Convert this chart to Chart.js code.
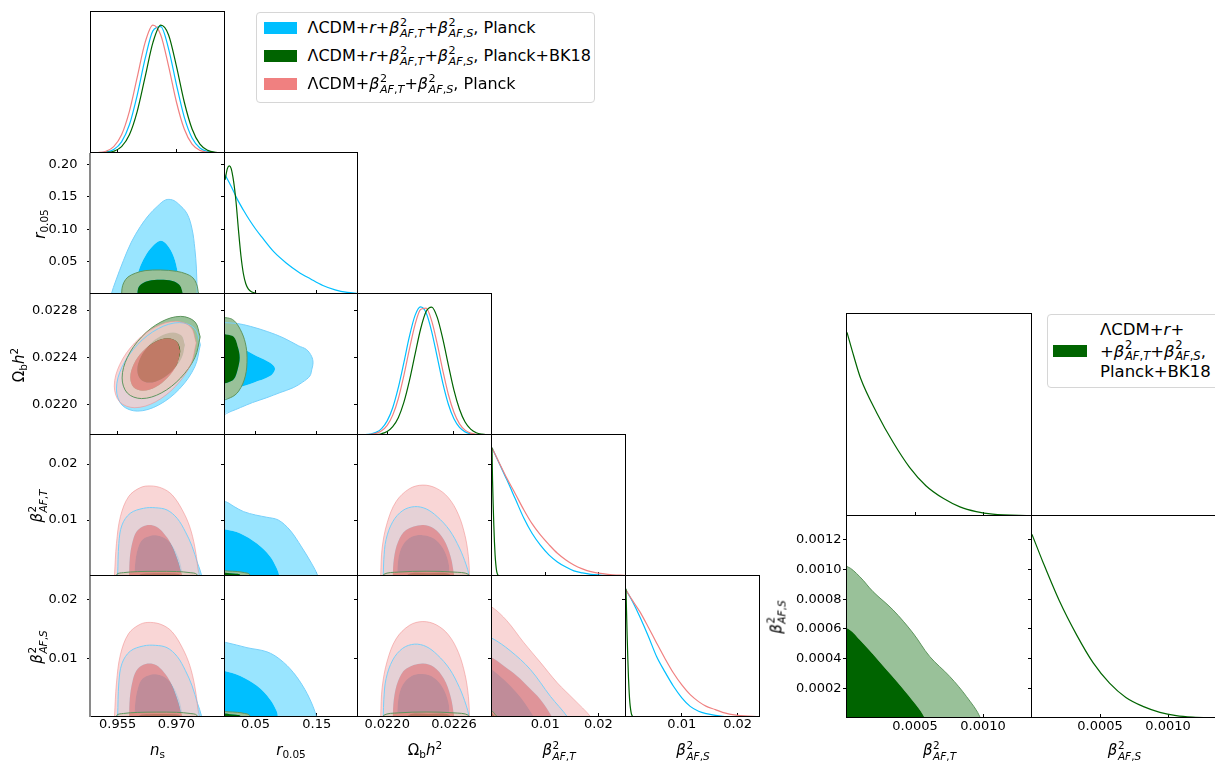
<!DOCTYPE html>
<html>
<head>
<meta charset="utf-8">
<title>Triangle plot</title>
<script src="https://cdn.jsdelivr.net/npm/chart.js@4.4.1/dist/chart.umd.min.js"></script>
<style>
  html, body { margin: 0; padding: 0; background: #fff; }
  body { position: relative; width: 1215px; height: 761px; overflow: hidden;
         font-family: "DejaVu Sans", sans-serif; color: #000; }
  canvas { position: absolute; }
  .t { position: absolute; white-space: nowrap; line-height: 1; }
  .c { transform: translate(-50%, -50%); font-size: 15px; }
  .v { transform: translate(-50%, -50%) rotate(-90deg); font-size: 15px; }
  .leg { transform: translateY(-50%); }
  .ss { display: inline-flex; flex-direction: column; font-size: 0.7em; line-height: 1;
        vertical-align: 0.62em; margin-left: 0.05em; }
  .sb { font-size: 0.7em; vertical-align: -0.3em; line-height: 0; }
  .sp { font-size: 0.7em; vertical-align: 0.55em; line-height: 0; }
  .box { position: absolute; box-sizing: border-box; border: 1px solid #d6d6d6;
         border-radius: 4px; background: #fff; }
  .patch { position: absolute; }
</style>
</head>
<body>
<script>
// ---------- axis ranges and ticks ----------
const nsRange = [0.9482, 0.9824];
const rRange = [0, 0.2174];
const ombRange = [0.021738, 0.022942];
const btRange = [0, 0.0252];
const bsRange = [0, 0.0240];
const bZoomRange = [0, 0.00136];
const densRange = [0, 1.1];

const nsTicks = [0.955, 0.970];
const nsLabels = ['0.955', '0.970'];
const rTicksX = [0.05, 0.15];
const rLabelsX = ['0.05', '0.15'];
const rTicksY = [0.05, 0.10, 0.15, 0.20];
const rLabelsY = ['0.05', '0.10', '0.15', '0.20'];
const ombTicksX = [0.0220, 0.0226];
const ombLabelsX = ['0.0220', '0.0226'];
const ombTicksY = [0.0220, 0.0224, 0.0228];
const ombLabelsY = ['0.0220', '0.0224', '0.0228'];
const bTicks = [0.01, 0.02];
const bLabels = ['0.01', '0.02'];
const bZoomTicksX = [0.0005, 0.0010];
const bZoomLabelsX = ['0.0005', '0.0010'];
const bZoomTicksY = [0.0002, 0.0004, 0.0006, 0.0008, 0.0010, 0.0012];
const bZoomLabelsY = ['0.0002', '0.0004', '0.0006', '0.0008', '0.0010', '0.0012'];

// ---------- 1D marginals (normalised to peak 1) ----------
const nsGrid = [0.948, 0.950, 0.952, 0.954, 0.956, 0.958, 0.960, 0.962, 0.964, 0.966, 0.968, 0.970, 0.972, 0.974, 0.976, 0.978, 0.980, 0.982];
const nsPlanckR = [0.0002, 0.0013, 0.0066, 0.0268, 0.087, 0.220, 0.452, 0.734, 0.953, 0.986, 0.813, 0.534, 0.280, 0.117, 0.039, 0.0105, 0.0022, 0.0004];
const nsBK18 = [0.0001, 0.0005, 0.0031, 0.0137, 0.0497, 0.142, 0.325, 0.592, 0.861, 0.997, 0.921, 0.678, 0.398, 0.187, 0.069, 0.0205, 0.0049, 0.0009];
const nsPlanck = [0.0005, 0.0031, 0.0137, 0.0497, 0.142, 0.325, 0.592, 0.861, 0.997, 0.921, 0.678, 0.398, 0.187, 0.069, 0.0205, 0.0049, 0.0009, 0.0001];

const rGridR = [0, 0.01, 0.02, 0.03, 0.04, 0.05, 0.06, 0.08, 0.10, 0.12, 0.14, 0.16, 0.18, 0.20, 0.2174];
const rPlanckR = [0.93, 0.84, 0.74, 0.655, 0.577, 0.507, 0.445, 0.328, 0.242, 0.172, 0.117, 0.066, 0.032, 0.012, 0.004];
const rGridBK = [0, 0.004, 0.007, 0.010, 0.014, 0.018, 0.022, 0.026, 0.030, 0.034, 0.038, 0.044, 0.050, 0.060, 0.080, 0.2174];
const rBK18 = [0.89, 0.98, 1.0, 0.98, 0.88, 0.72, 0.50, 0.30, 0.16, 0.08, 0.04, 0.015, 0.006, 0.001, 0, 0];

const ombGrid = [0.02174, 0.02180, 0.02185, 0.02190, 0.02195, 0.02200, 0.02205, 0.02210, 0.02215, 0.02220, 0.02225, 0.02230, 0.02235, 0.02240, 0.02245, 0.02250, 0.02255, 0.02260, 0.02265, 0.02270, 0.02275, 0.02280, 0.02285, 0.02290, 0.02294];
const ombPlanckR = [0.0005, 0.0023, 0.0073, 0.0203, 0.0498, 0.110, 0.213, 0.369, 0.565, 0.769, 0.931, 0.999, 0.953, 0.807, 0.607, 0.405, 0.240, 0.126, 0.059, 0.0245, 0.009, 0.0029, 0.0009, 0.0003, 0.0001];
const ombPlanck = [0.0002, 0.0012, 0.0042, 0.0122, 0.0324, 0.075, 0.155, 0.283, 0.463, 0.669, 0.859, 0.979, 0.990, 0.890, 0.710, 0.503, 0.316, 0.177, 0.087, 0.038, 0.015, 0.0052, 0.0016, 0.0005, 0.0002];
const ombBK18 = [0.0001, 0.0003, 0.001, 0.0033, 0.010, 0.027, 0.065, 0.135, 0.254, 0.424, 0.627, 0.825, 0.963, 0.998, 0.918, 0.750, 0.546, 0.350, 0.201, 0.101, 0.046, 0.018, 0.0065, 0.002, 0.001];

const btGrid = [0, 0.0014, 0.0028, 0.0044, 0.006, 0.0075, 0.0091, 0.0107, 0.0123, 0.0139, 0.0154, 0.0170, 0.0186, 0.0218, 0.0252];
const btPlanckR = [1.0, 0.875, 0.75, 0.60, 0.45, 0.335, 0.24, 0.165, 0.11, 0.07, 0.04, 0.024, 0.013, 0.004, 0.001];
const btPlanck = [1.0, 0.88, 0.762, 0.64, 0.515, 0.41, 0.32, 0.245, 0.177, 0.125, 0.086, 0.056, 0.034, 0.013, 0.004];
const btGridBK = [0, 0.00005, 0.0001, 0.00022, 0.00034, 0.00046, 0.00058, 0.00071, 0.00083, 0.00095, 0.00107, 0.00136];
const btBK18 = [1.0, 0.87, 0.75, 0.56, 0.40, 0.265, 0.165, 0.095, 0.05, 0.024, 0.01, 0.001];

const bsGrid = [0, 0.0013, 0.0025, 0.004, 0.0055, 0.007, 0.0085, 0.010, 0.0115, 0.013, 0.0144, 0.016, 0.0173, 0.020, 0.024];
const bsPlanckR = [0.99, 0.89, 0.78, 0.63, 0.47, 0.35, 0.24, 0.15, 0.083, 0.045, 0.026, 0.013, 0.006, 0.002, 0];
const bsPlanck = [0.99, 0.90, 0.82, 0.70, 0.576, 0.455, 0.343, 0.25, 0.174, 0.12, 0.083, 0.058, 0.036, 0.013, 0.003];
const bsGridBK = [0, 0.00008, 0.0002, 0.00033, 0.00045, 0.00057, 0.00069, 0.00082, 0.00094, 0.00106, 0.00118, 0.00136];
const bsBK18 = [1.0, 0.85, 0.64, 0.45, 0.30, 0.19, 0.112, 0.062, 0.031, 0.013, 0.005, 0.001];

// ---------- 2D contours: [x, y] vertices of the 95% and 68% regions ----------
const nsR_planckR95 = [[0.9532, -0.01], [0.9534, 0], [0.9545, 0.02], [0.9565, 0.052], [0.9585, 0.08], [0.9608, 0.104], [0.9630, 0.122], [0.9651, 0.135], [0.9672, 0.145], [0.9690, 0.145], [0.9705, 0.139], [0.9727, 0.124], [0.9740, 0.10], [0.9747, 0.07], [0.9751, 0.04], [0.9753, 0], [0.9753, -0.01]];
const nsR_planckR68 = [[0.9593, -0.01], [0.9595, 0], [0.9598, 0.02], [0.9606, 0.04], [0.9620, 0.058], [0.9638, 0.073], [0.9659, 0.082], [0.9676, 0.076], [0.9693, 0.058], [0.9703, 0.035], [0.9709, 0.012], [0.9711, 0], [0.9711, -0.01]];
const nsR_bk95 = [[0.9560, -0.01], [0.9561, 0.008], [0.9566, 0.018], [0.9576, 0.026], [0.9595, 0.032], [0.9620, 0.036], [0.9659, 0.037], [0.9700, 0.035], [0.9725, 0.031], [0.9742, 0.025], [0.9751, 0.016], [0.9755, 0.006], [0.9755, -0.01]];
const nsR_bk68 = [[0.9600, -0.01], [0.9602, 0.008], [0.9610, 0.015], [0.9628, 0.020], [0.9659, 0.0218], [0.9690, 0.020], [0.9706, 0.015], [0.9713, 0.008], [0.9715, -0.01]];

const nsOmb_planckR95 = [[0.97611, 0.022509], [0.97468, 0.022647], [0.97076, 0.022698], [0.9654, 0.022647], [0.96005, 0.022509], [0.95613, 0.02232], [0.95469, 0.022131], [0.95613, 0.021993], [0.96005, 0.021942], [0.9654, 0.021993], [0.97076, 0.022131], [0.97468, 0.02232]];
const nsOmb_planckR68 = [[0.97194, 0.022436], [0.97106, 0.02252], [0.96867, 0.022551], [0.9654, 0.02252], [0.96213, 0.022436], [0.95974, 0.02232], [0.95886, 0.022205], [0.95974, 0.02212], [0.96213, 0.022089], [0.9654, 0.02212], [0.96867, 0.022205], [0.97106, 0.02232]];
const nsOmb_bk95 = [[0.97606, 0.022576], [0.97473, 0.022704], [0.97108, 0.022751], [0.9661, 0.022704], [0.96112, 0.022576], [0.95747, 0.0224], [0.95614, 0.022225], [0.95747, 0.022096], [0.96112, 0.022049], [0.9661, 0.022096], [0.97108, 0.022225], [0.97473, 0.0224]];
const nsOmb_bk68 = [[0.97218, 0.022507], [0.97137, 0.022585], [0.96914, 0.022614], [0.9661, 0.022585], [0.96306, 0.022507], [0.96083, 0.0224], [0.96002, 0.022293], [0.96083, 0.022215], [0.96306, 0.022186], [0.9661, 0.022215], [0.96914, 0.022293], [0.97137, 0.0224]];
const nsOmb_planck95 = [[0.97506, 0.022525], [0.97366, 0.02266], [0.96983, 0.022709], [0.9646, 0.02266], [0.95937, 0.022525], [0.95554, 0.02234], [0.95414, 0.022156], [0.95554, 0.02202], [0.95937, 0.021971], [0.9646, 0.02202], [0.96983, 0.022156], [0.97366, 0.02234]];
const nsOmb_planck68 = [[0.97098, 0.022453], [0.97013, 0.022535], [0.96779, 0.022565], [0.9646, 0.022535], [0.96141, 0.022453], [0.95907, 0.02234], [0.95822, 0.022228], [0.95907, 0.022145], [0.96141, 0.022115], [0.9646, 0.022145], [0.96779, 0.022228], [0.97013, 0.02234]];

const rOmb_planckR95 = [[-0.01, 0.02270], [0.02, 0.02269], [0.0413, 0.022666], [0.07, 0.02262], [0.0953, 0.022568], [0.12, 0.0225], [0.1332, 0.022468], [0.1415, 0.02241], [0.1439, 0.022355], [0.1420, 0.0223], [0.1386, 0.022241], [0.127, 0.02219], [0.1115, 0.022142], [0.09, 0.0221], [0.0684, 0.022057], [0.045, 0.022015], [0.0251, 0.021972], [0.01, 0.02194], [-0.01, 0.02191]];
const rOmb_planckR68 = [[-0.01, 0.022515], [0.0008, 0.022511], [0.0251, 0.022483], [0.0522, 0.022411], [0.0737, 0.022355], [0.0818, 0.022304], [0.0737, 0.022241], [0.0467, 0.022185], [0.0198, 0.022142], [0.0008, 0.022122], [-0.01, 0.02212]];
const rOmb_bk95 = [[-0.01, 0.02274], [0.004, 0.022738], [0.0143, 0.022717], [0.0251, 0.022638], [0.0332, 0.022525], [0.036, 0.022397], [0.0332, 0.022241], [0.0224, 0.022113], [0.0089, 0.022057], [-0.01, 0.022045]];
const rOmb_bk68 = [[-0.01, 0.022605], [0.002, 0.022596], [0.0143, 0.022576], [0.0207, 0.022496], [0.024, 0.022397], [0.0207, 0.022298], [0.0143, 0.022213], [0.0036, 0.022185], [-0.01, 0.02218]];

// n_s vs beta^2 (T and S constraints coincide at this resolution)
const nsB_planck95 = [[0.9541, -0.001], [0.9542, 0.0002], [0.9547, 0.0058], [0.9557, 0.0106], [0.9578, 0.0142], [0.9608, 0.0158], [0.9634, 0.0161], [0.9663, 0.0157], [0.9689, 0.0145], [0.9715, 0.0118], [0.9734, 0.0088], [0.9747, 0.0052], [0.9754, 0.0017], [0.9755, -0.001]];
const nsB_planck68 = [[0.9579, -0.001], [0.9581, 0.0032], [0.9588, 0.0061], [0.9598, 0.0079], [0.9613, 0.0088], [0.9631, 0.0091], [0.9649, 0.0088], [0.9667, 0.0077], [0.9685, 0.0059], [0.9700, 0.0034], [0.9710, 0.0011], [0.9714, -0.001]];
const nsB_planckR95 = [[0.9549, -0.001], [0.9550, 0.0002], [0.9553, 0.0058], [0.9561, 0.0091], [0.9582, 0.0112], [0.9616, 0.0121], [0.9646, 0.0122], [0.9676, 0.0118], [0.9702, 0.0103], [0.9723, 0.0079], [0.9740, 0.0053], [0.9754, 0.0023], [0.9764, 0.0002], [0.9765, -0.001]];
const nsB_planckR68 = [[0.9593, -0.001], [0.9595, 0.0025], [0.9602, 0.005], [0.9613, 0.0065], [0.9634, 0.0072], [0.9654, 0.0072], [0.9674, 0.0066], [0.9692, 0.0052], [0.9706, 0.0032], [0.9714, 0.0011], [0.9717, -0.001]];
const nsB_bk95 = [[0.9545, -0.001], [0.9548, 0.0003], [0.9565, 0.0006], [0.9600, 0.00078], [0.9650, 0.00083], [0.9700, 0.0008], [0.9735, 0.0006], [0.9752, 0.0003], [0.9757, -0.001]];
const nsB_bk68 = [[0.9600, -0.001], [0.9605, 0.0002], [0.9630, 0.00045], [0.9660, 0.0005], [0.9690, 0.00045], [0.9710, 0.0002], [0.9715, -0.001]];

const rBT_planckR95 = [[-0.01, -0.001], [-0.01, 0.0133], [0.0008, 0.0133], [0.015, 0.0124], [0.0305, 0.0115], [0.05, 0.0109], [0.0684, 0.0105], [0.0872, 0.0100], [0.1062, 0.0082], [0.1251, 0.0052], [0.1413, 0.0023], [0.152, 0], [0.153, -0.001]];
const rBT_planckR68 = [[-0.01, -0.001], [-0.01, 0.0083], [0.0008, 0.0083], [0.0251, 0.0076], [0.0522, 0.0058], [0.0737, 0.0035], [0.0846, 0.0014], [0.0888, 0], [0.089, -0.001]];
const rBS_planckR95 = [[-0.01, -0.001], [-0.01, 0.0127], [0.0008, 0.0127], [0.0359, 0.0118], [0.0684, 0.0111], [0.090, 0.0098], [0.1115, 0.0076], [0.1305, 0.0047], [0.1439, 0.0018], [0.1494, 0], [0.150, -0.001]];
const rBS_planckR68 = [[-0.01, -0.001], [-0.01, 0.0078], [0.0008, 0.0078], [0.0251, 0.0070], [0.0522, 0.0053], [0.0737, 0.0030], [0.0846, 0.0010], [0.0864, 0], [0.087, -0.001]];
const rB_bk95 = [[-0.01, -0.001], [-0.01, 0.0009], [0.005, 0.00088], [0.02, 0.0008], [0.032, 0.0006], [0.040, 0.0003], [0.043, -0.001]];
const rB_bk68 = [[-0.01, -0.001], [-0.01, 0.0005], [0.008, 0.00048], [0.018, 0.0004], [0.025, 0.0002], [0.027, -0.001]];

const ombB_planck95 = [[0.02194, -0.001], [0.021942, 0.0002], [0.021955, 0.005], [0.02200, 0.0095], [0.02208, 0.0133], [0.02220, 0.0156], [0.02232, 0.01625], [0.02244, 0.0157], [0.02255, 0.0140], [0.02264, 0.0110], [0.02270, 0.0072], [0.02273, 0.0035], [0.02274, 0.0002], [0.02274, -0.001]];
const ombB_planck68 = [[0.02205, -0.001], [0.02206, 0.003], [0.0221, 0.0062], [0.02217, 0.0082], [0.022315, 0.0091], [0.02242, 0.0085], [0.02251, 0.0065], [0.02257, 0.0035], [0.0226, 0.0002], [0.0226, -0.001]];
const ombB_planckR95 = [[0.021962, -0.001], [0.021965, 0.0002], [0.02197, 0.003], [0.02199, 0.0065], [0.02205, 0.0097], [0.02214, 0.0117], [0.022246, 0.0124], [0.02235, 0.0120], [0.02245, 0.0106], [0.02256, 0.0082], [0.02265, 0.0050], [0.02271, 0.0020], [0.022735, 0.0002], [0.02274, -0.001]];
const ombB_planckR68 = [[0.02209, -0.001], [0.0221, 0.003], [0.02214, 0.0055], [0.02222, 0.007], [0.02232, 0.0073], [0.02242, 0.0067], [0.0225, 0.005], [0.02255, 0.0025], [0.02256, 0.0002], [0.02256, -0.001]];
const ombB_bk95 = [[0.02195, -0.001], [0.02197, 0.0003], [0.0221, 0.0007], [0.02235, 0.00085], [0.0226, 0.0007], [0.02273, 0.0003], [0.02275, -0.001]];
const ombB_bk68 = [[0.02215, -0.001], [0.0222, 0.0004], [0.02237, 0.0005], [0.02255, 0.0004], [0.0226, -0.001]];

const bb_planck95 = [[-0.001, -0.001], [-0.001, 0.0187], [0, 0.0187], [0.00278, 0.0164], [0.00595, 0.0127], [0.0091, 0.0093], [0.0123, 0.0058], [0.0154, 0.003], [0.0186, 0], [0.019, -0.001]];
const bb_planck68 = [[-0.001, -0.001], [-0.001, 0.0101], [0, 0.0101], [0.0025, 0.0085], [0.0047, 0.007], [0.0070, 0.0050], [0.0091, 0.003], [0.0113, 0], [0.0116, -0.001]];
const bb_planckR95 = [[-0.001, -0.001], [-0.001, 0.0134], [0, 0.0134], [0.0034, 0.0113], [0.0072, 0.0081], [0.011, 0.0035], [0.0142, 0], [0.0145, -0.001]];
const bb_planckR68 = [[-0.001, -0.001], [-0.001, 0.0081], [0, 0.0081], [0.0047, 0.0041], [0.0079, 0], [0.0082, -0.001]];
const bb_bk95 = [[-0.0001, -0.0001], [-0.0001, 0.00102], [0, 0.00102], [0.0000934, 0.000952], [0.000191, 0.000851], [0.000338, 0.000728], [0.000485, 0.000572], [0.000608, 0.000414], [0.000755, 0.00028], [0.000878, 0.000145], [0.000981, 0], [0.00099, -0.0001]];
const bb_bk68 = [[-0.0001, -0.0001], [-0.0001, 0.000605], [0, 0.000605], [0.0000934, 0.000527], [0.00029, 0.000325], [0.000437, 0.000168], [0.000571, 0], [0.00058, -0.0001]];

// ---------- styles ----------
const STYLE = {
  planckR: { outer: 'rgb(153,229,255)', inner: '#00bfff', edge: 'rgb(120,208,250)', line: '#00bfff' },
  bk18:    { outer: 'rgb(153,193,153)', inner: '#006400', edge: 'rgb(95,150,95)', line: '#006400' },
  planck:  { outer: 'rgba(247,204,204,0.8)', inner: 'rgba(240,128,128,0.8)', edge: 'rgba(240,140,140,0.55)', line: '#f08080' }
};
const FONT = 'DejaVu Sans';

// ---------- helpers ----------
function toPts(arr) { return arr.map(p => ({ x: p[0], y: p[1] })); }
function signedArea(pts) {
  let a = 0;
  const x0 = pts[0][0], y0 = pts[0][1];
  for (let i = 0; i < pts.length; i++) {
    const p = pts[i], q = pts[(i + 1) % pts.length];
    a += (p[0] - x0) * (q[1] - y0) - (q[0] - x0) * (p[1] - y0);
  }
  return a;
}
function oriented(pts, ccw) { return (signedArea(pts) > 0) === ccw ? pts : pts.slice().reverse(); }
function closed(pts) { return pts.concat([pts[0]]); }
// outer ring with the inner ring cut out (opposite winding, joined by a straight bridge)
function annulus(outer, inner) {
  const o = oriented(outer, true), i = oriented(inner, false);
  return o.concat([o[0], o[0], i[0]], i, [i[0]]);
}

function contourLayers(sets) {
  const fills = [], edges = [];
  sets.forEach(([model, outer, inner]) => {
    const s = STYLE[model];
    fills.push({ data: toPts(annulus(outer, inner)), backgroundColor: s.outer, borderColor: 'transparent', borderWidth: 0, fill: 'shape', tension: 0.35 });
    fills.push({ data: toPts(closed(inner)), backgroundColor: s.inner, borderColor: 'transparent', borderWidth: 0, fill: 'shape', tension: 0.35 });
    edges.push({ data: toPts(closed(outer)), borderColor: s.edge, borderWidth: 1, fill: false, tension: 0.35 });
  });
  return fills.concat(edges);
}

function marginalLayers(list) {
  return list.map(([model, grid, vals]) => ({
    data: grid.map((x, i) => ({ x, y: vals[i] })),
    borderColor: STYLE[model].line, borderWidth: 1.2, fill: false,
    cubicInterpolationMode: 'monotone'
  }));
}

function linAxis(pos, range, ticks, labels, opt) {
  return {
    type: 'linear', position: pos, min: range[0], max: range[1], z: 1,
    afterBuildTicks: s => { s.ticks = ticks.map(v => ({ value: v })); },
    afterFit: s => {
      if (pos === 'bottom') s.height = opt.size; else s.width = opt.size;
      s.paddingLeft = s.paddingRight = s.paddingTop = s.paddingBottom = 0;
    },
    grid: { drawOnChartArea: false, drawTicks: true, tickLength: opt.tick, tickColor: '#000', tickWidth: 1 },
    border: { display: false },
    ticks: {
      display: !!opt.showLabels, autoSkip: false, maxRotation: 0, minRotation: 0,
      padding: opt.pad || 0, color: '#000', font: { family: FONT, size: opt.font || 13 },
      callback: (v, i) => labels[i]
    }
  };
}

function densAxis(size) {
  return {
    type: 'linear', position: 'left', min: densRange[0], max: densRange[1],
    afterFit: s => { s.width = size; s.paddingTop = s.paddingBottom = 0; },
    grid: { drawOnChartArea: false, drawTicks: false },
    border: { display: false },
    ticks: { display: false }
  };
}

const framePlugin = {
  id: 'frame',
  afterDraw(chart, args, opts) {
    const a = chart.chartArea, ctx = chart.ctx;
    ctx.save();
    ctx.strokeStyle = '#000';
    ctx.lineWidth = 1;
    ctx.strokeRect(a.left - 0.5, a.top - 0.5, a.right - a.left, a.bottom - a.top);
    if (opts.greyLeft) {
      ctx.strokeStyle = '#8a8a8a';
      ctx.lineWidth = 2;
      ctx.beginPath();
      ctx.moveTo(a.left - 1, a.top);
      ctx.lineTo(a.left - 1, a.bottom);
      ctx.stroke();
    }
    ctx.restore();
  }
};

function makePanel(p) {
  const MT = 4, MR = 4;
  const W = p.w + p.ml + MR, H = p.h + MT + p.mb;
  const cv = document.createElement('canvas');
  cv.width = W; cv.height = H;
  cv.style.left = (p.left - p.ml) + 'px';
  cv.style.top = (p.top - MT) + 'px';
  cv.style.width = W + 'px';
  cv.style.height = H + 'px';
  document.body.appendChild(cv);
  const n = p.layers.length;
  const datasets = p.layers.map((d, k) => Object.assign({ pointRadius: 0, clip: 0, order: n - k }, d));
  new Chart(cv, {
    type: 'line',
    data: { datasets },
    options: {
      responsive: false, animation: false, events: [],
      layout: { padding: { left: 0, top: MT, right: MR, bottom: 0 } },
      elements: { line: { capBezierPoints: false } },
      plugins: { legend: { display: false }, tooltip: { enabled: false }, frame: { greyLeft: !!p.greyLeft } },
      scales: p.scales
    },
    plugins: [framePlugin]
  });
}

// ---------- left triangle ----------
const COLS = [91, 225, 358, 492, 626, 760];
const ROWS = [12, 153, 294, 435, 576, 717];
const vars = ['ns', 'r', 'omb', 'bt', 'bs'];
const AX = {
  ns:  { range: nsRange, xt: nsTicks, xl: nsLabels, yt: [], yl: [] },
  r:   { range: rRange, xt: rTicksX, xl: rLabelsX, yt: rTicksY, yl: rLabelsY },
  omb: { range: ombRange, xt: ombTicksX, xl: ombLabelsX, yt: ombTicksY, yl: ombLabelsY },
  bt:  { range: btRange, xt: bTicks, xl: bLabels, yt: bTicks, yl: bLabels },
  bs:  { range: bsRange, xt: bTicks, xl: bLabels, yt: bTicks, yl: bLabels }
};
const marginals = {
  ns:  [['planckR', nsGrid, nsPlanckR], ['planck', nsGrid, nsPlanck], ['bk18', nsGrid, nsBK18]],
  r:   [['planckR', rGridR, rPlanckR], ['bk18', rGridBK, rBK18]],
  omb: [['planckR', ombGrid, ombPlanckR], ['planck', ombGrid, ombPlanck], ['bk18', ombGrid, ombBK18]],
  bt:  [['planckR', btGrid, btPlanckR], ['planck', btGrid, btPlanck], ['bk18', btGridBK, btBK18]],
  bs:  [['planckR', bsGrid, bsPlanckR], ['planck', bsGrid, bsPlanck], ['bk18', bsGridBK, bsBK18]]
};
const contours = {
  '10': [['planckR', nsR_planckR95, nsR_planckR68], ['bk18', nsR_bk95, nsR_bk68]],
  '20': [['planckR', nsOmb_planckR95, nsOmb_planckR68], ['bk18', nsOmb_bk95, nsOmb_bk68], ['planck', nsOmb_planck95, nsOmb_planck68]],
  '21': [['planckR', rOmb_planckR95, rOmb_planckR68], ['bk18', rOmb_bk95, rOmb_bk68]],
  '30': [['planckR', nsB_planckR95, nsB_planckR68], ['bk18', nsB_bk95, nsB_bk68], ['planck', nsB_planck95, nsB_planck68]],
  '31': [['planckR', rBT_planckR95, rBT_planckR68], ['bk18', rB_bk95, rB_bk68]],
  '32': [['planckR', ombB_planckR95, ombB_planckR68], ['bk18', ombB_bk95, ombB_bk68], ['planck', ombB_planck95, ombB_planck68]],
  '40': [['planckR', nsB_planckR95, nsB_planckR68], ['bk18', nsB_bk95, nsB_bk68], ['planck', nsB_planck95, nsB_planck68]],
  '41': [['planckR', rBS_planckR95, rBS_planckR68], ['bk18', rB_bk95, rB_bk68]],
  '42': [['planckR', ombB_planckR95, ombB_planckR68], ['bk18', ombB_bk95, ombB_bk68], ['planck', ombB_planck95, ombB_planck68]],
  '43': [['planckR', bb_planckR95, bb_planckR68], ['bk18', bb_bk95, bb_bk68], ['planck', bb_planck95, bb_planck68]]
};

for (let row = 0; row < 5; row++) {
  for (let col = 0; col <= row; col++) {
    const xa = AX[vars[col]], ya = AX[vars[row]];
    const left = COLS[col], top = ROWS[row];
    const ml = col === 0 ? left : 8;
    const mb = row === 4 ? 26 : 6;
    const scales = {
      x: linAxis('bottom', xa.range, xa.xt, xa.xl, { size: mb, tick: -4, pad: 4, showLabels: row === 4 })
    };
    let layers;
    if (row === col) {
      layers = marginalLayers(marginals[vars[col]]);
      if (row === 0) {
        scales.y = densAxis(ml);
      } else {
        scales.y = { type: 'linear', display: false, min: densRange[0], max: densRange[1] };
        scales.yr = linAxis('left', ya.range, ya.yt, ya.yl, { size: ml, tick: 4, showLabels: false });
      }
    } else {
      layers = contourLayers(contours[`${row}${col}`]);
      scales.y = linAxis('left', ya.range, ya.yt, ya.yl, { size: ml, tick: 4, pad: 9.5, showLabels: col === 0 });
    }
    makePanel({ left, top, w: COLS[col + 1] - left, h: ROWS[row + 1] - top, ml, mb, scales, layers, greyLeft: col === 0 && row > 0 });
  }
}

// ---------- right triangle (Planck+BK18 beta^2 zoom) ----------
const RCOLS = [847, 1032, 1217];
const RROWS = [314, 516, 718];
makePanel({
  left: RCOLS[0], top: RROWS[0], w: RCOLS[1] - RCOLS[0], h: RROWS[1] - RROWS[0], ml: 8, mb: 6,
  scales: {
    x: linAxis('bottom', bZoomRange, bZoomTicksX, bZoomLabelsX, { size: 6, tick: -4, showLabels: false }),
    y: densAxis(8)
  },
  layers: marginalLayers([['bk18', btGridBK, btBK18]])
});
makePanel({
  left: RCOLS[0], top: RROWS[1], w: RCOLS[1] - RCOLS[0], h: RROWS[2] - RROWS[1], ml: 60, mb: 26,
  scales: {
    x: linAxis('bottom', bZoomRange, bZoomTicksX, bZoomLabelsX, { size: 26, tick: -4, pad: 5, showLabels: true }),
    y: linAxis('left', bZoomRange, bZoomTicksY, bZoomLabelsY, { size: 60, tick: 4, pad: 1.5, showLabels: true })
  },
  layers: contourLayers([['bk18', bb_bk95, bb_bk68]])
});
makePanel({
  left: RCOLS[1], top: RROWS[1], w: RCOLS[2] - RCOLS[1], h: RROWS[2] - RROWS[1], ml: 8, mb: 26,
  scales: {
    x: linAxis('bottom', bZoomRange, bZoomTicksX, bZoomLabelsX, { size: 26, tick: -4, pad: 5, showLabels: true }),
    y: { type: 'linear', display: false, min: densRange[0], max: densRange[1] },
    yr: linAxis('left', bZoomRange, bZoomTicksY, bZoomLabelsY, { size: 8, tick: 4, showLabels: false })
  },
  layers: marginalLayers([['bk18', bsGridBK, bsBK18]])
});

// ---------- axis titles ----------
const beta = s => `<i>β</i><span class="ss"><span>2</span><span><i>AF</i>,<i>${s}</i></span></span>`;
const labNs = '<i>n</i><span class="sb">s</span>';
const labR = '<i>r</i><span class="sb">0.05</span>';
const labOmb = 'Ω<span class="sb">b</span><i>h</i><span class="sp">2</span>';

function addText(html, x, y, cls, size) {
  const d = document.createElement('div');
  d.className = 't ' + cls;
  d.innerHTML = html;
  d.style.left = x + 'px';
  d.style.top = y + 'px';
  if (size) d.style.fontSize = size + 'px';
  document.body.appendChild(d);
  return d;
}

const xTitles = [[labNs, 157.5], [labR, 291], [labOmb, 425], [beta('T'), 559], [beta('S'), 693], [beta('T'), 939.5], [beta('S'), 1124.5]];
xTitles.forEach(([h, x]) => addText(h, x, 750, 'c'));
const yTitles = [[labR, 40, 223.5], [labOmb, 19, 364.5], [beta('T'), 37, 505.5], [beta('S'), 37, 646.5], [beta('S'), 776, 617]];
yTitles.forEach(([h, x, y]) => addText(h, x, y, 'v'));

// ---------- legends ----------
const legendNames = [
  `ΛCDM+<i>r</i>+${beta('T')}+${beta('S')}, Planck`,
  `ΛCDM+<i>r</i>+${beta('T')}+${beta('S')}, Planck+BK18`,
  `ΛCDM+${beta('T')}+${beta('S')}, Planck`
];
const legendColors = ['#00bfff', '#006400', '#f08080'];
const legendRowsY = [27.5, 55.5, 83.5];

function addBox(x, y, w, h) {
  const b = document.createElement('div');
  b.className = 'box';
  Object.assign(b.style, { left: x + 'px', top: y + 'px', width: w + 'px', height: h + 'px' });
  document.body.appendChild(b);
}
function addPatch(x, y, w, h, color) {
  const p = document.createElement('div');
  p.className = 'patch';
  Object.assign(p.style, { left: x + 'px', top: y + 'px', width: w + 'px', height: h + 'px', background: color });
  document.body.appendChild(p);
}

addBox(256, 12, 339, 91);
legendNames.forEach((name, i) => {
  addPatch(264, legendRowsY[i] - 6, 33, 12, legendColors[i]);
  addText(name, 307.5, legendRowsY[i], 'leg', 16);
});

const zoomLegendLines = ['ΛCDM+<i>r</i>+', `+${beta('T')}+${beta('S')},`, 'Planck+BK18'];
const zoomLegendY = [329.5, 351.5, 372];
addBox(1047, 314, 200, 74);
addPatch(1053, 345, 34, 12, '#006400');
zoomLegendLines.forEach((line, i) => addText(line, 1100, zoomLegendY[i], 'leg', 16.5));
</script>
</body>
</html>
